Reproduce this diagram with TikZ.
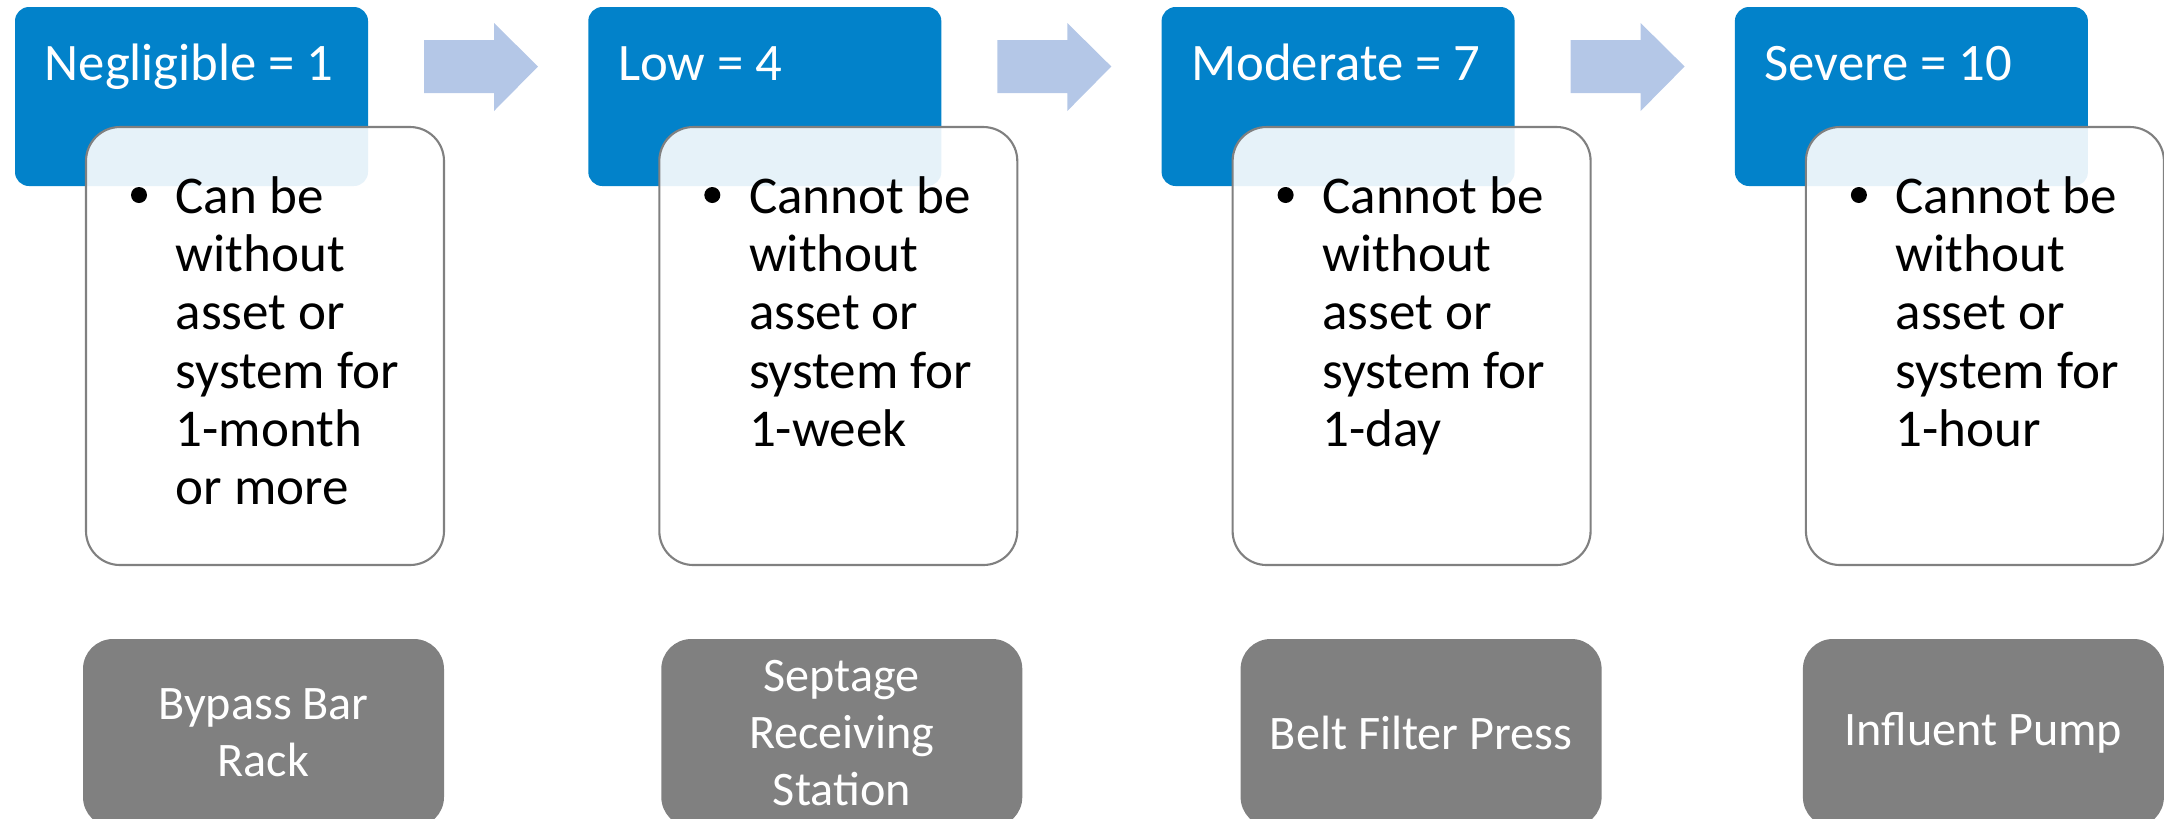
\documentclass[tikz,border=0pt]{standalone}
\usepackage{fontspec}
\setmainfont{Carlito}
\definecolor{rateblue}{RGB}{2,130,202}
\definecolor{arrowblue}{RGB}{180,199,231}
\definecolor{assetgray}{RGB}{128,128,128}
\definecolor{edgegray}{RGB}{128,128,128}
\tikzset{
  ratebox/.style={fill=rateblue,rounded corners=1.4mm,minimum width=35.3mm,minimum height=17.9mm,inner sep=0pt},
  ratetext/.style={anchor=base west,inner sep=0pt,text=white,font=\fontsize{15}{16}\selectfont},
  descbox/.style={fill=white,fill opacity=.9,draw=edgegray,line width=.6pt,rounded corners=3.4mm,
    minimum width=35.8mm,minimum height=43.8mm,inner sep=0pt},
  desctext/.style={anchor=base west,inner sep=0pt,text width=26mm,align=flush left,font=\fontsize{15.1}{16.6}\selectfont},
  assetbox/.style={fill=assetgray,rounded corners=3mm,minimum width=36.1mm,minimum height=18.8mm,inner sep=0pt,
    align=center,text=white,font=\fontsize{13.7}{16.2}\selectfont}
}
\begin{document}
\begin{tikzpicture}[x=.1mm,y=-.1mm]
\useasboundingbox (0,0) rectangle (2164,818);
\foreach \i/\ax/\rate/\desc/\asset in {
  0/263.5/{Negligible = 1}/{Can be\\without\\asset or\\system for\\1-month\\or more}/{Bypass Bar\\Rack},
  1/268.5/{Low = 4}/{Cannot be\\without\\asset or\\system for\\1-week}/{Septage\\Receiving\\Station},
  2/274.5/{Moderate = 7}/{Cannot be\\without\\asset or\\system for\\1-day}/{Belt Filter Press},
  3/263.5/{Severe = 10}/{Cannot be\\without\\asset or\\system for\\1-hour}/{Influent Pump}}{
\begin{scope}[xshift={\i*57.33mm}]
  \node[ratebox] (rate\i) at (191.5,96.5) {};
  \node[ratetext] (title\i) at (44,80) {\rate};
  \node[descbox] (desc\i) at (265,346) {};
  \fill (139,195) circle (.8mm);
  \node[desctext] (text\i) at (175,213) {\desc};
  \node[assetbox] (asset\i) at (\ax,733) {\asset};
  % block arrow towards the next rating
  \ifnum\i<3
    \fill[arrowblue] (424,40) -- (494,40) -- (494,23) -- (538,66.5) -- (494,111) -- (494,93) -- (424,93) -- cycle;
  \fi
\end{scope}
}
\end{tikzpicture}
\end{document}
